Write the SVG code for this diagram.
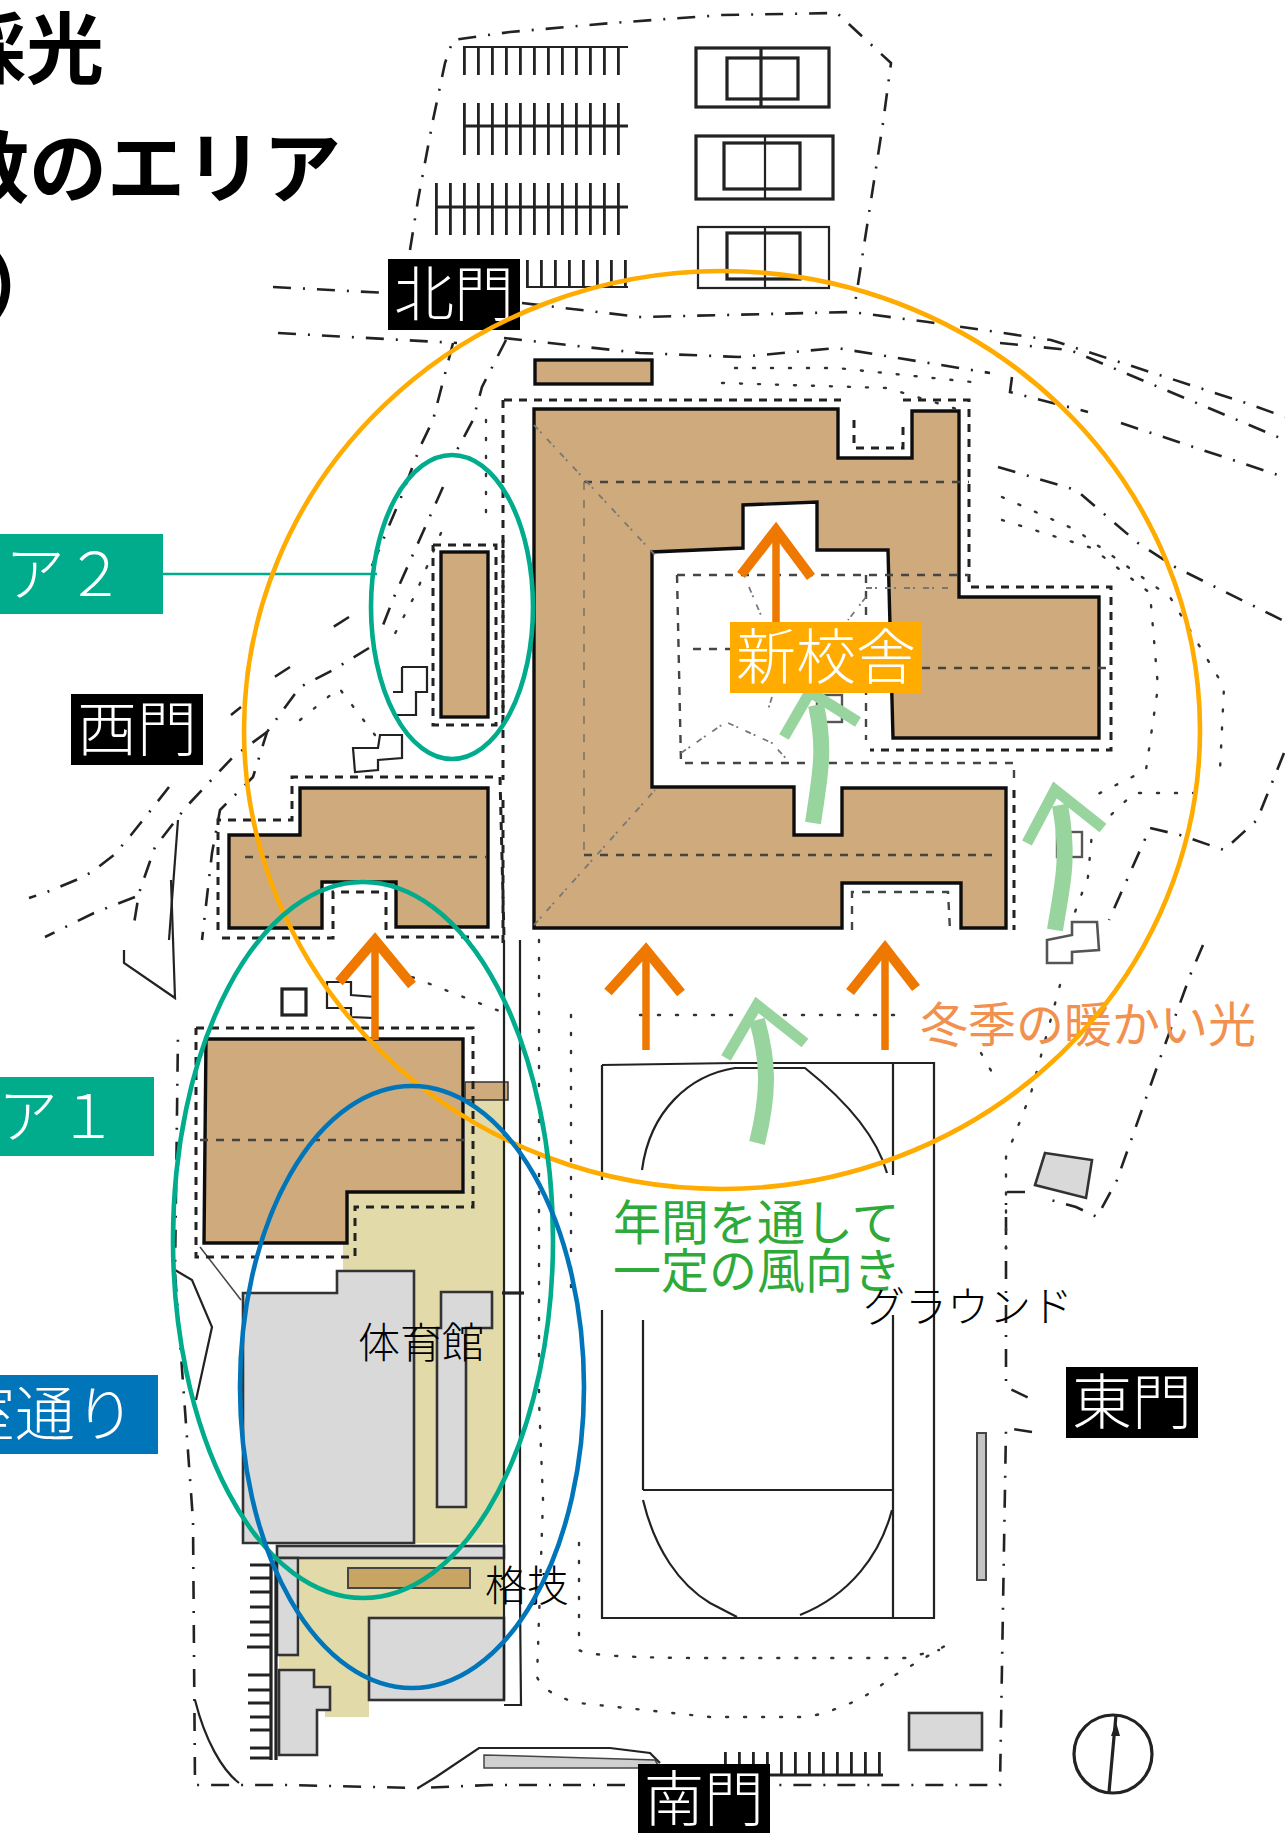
<svg xmlns="http://www.w3.org/2000/svg" width="1285" height="1833" viewBox="0 0 1285 1833">
<defs>
<filter id="soft" x="0" y="0" width="1285" height="1833" filterUnits="userSpaceOnUse"><feGaussianBlur stdDeviation="0.7"/></filter>
</defs>
<style>
text{font-family:"Noto Sans CJK JP","Noto Sans",sans-serif}
.title{font-size:78px;font-weight:700;fill:#000}
.lab{font-size:60px;font-weight:300;fill:#fff}
.blk{font-size:42px;font-weight:300;fill:#000}
.tan{fill:#cfaa7c;stroke:#111;stroke-width:3.4;stroke-linejoin:miter}
.gry{fill:#d9d9d9;stroke:#333;stroke-width:2.6}
.bei{fill:#e2dba9;stroke:none}
.s{fill:none;stroke:#222;stroke-width:2.2}
.s1{fill:none;stroke:#444;stroke-width:1.5}
.b{fill:none;stroke:#222;stroke-width:3.2}
.dd{fill:none;stroke:#222;stroke-width:2.6;stroke-dasharray:18 12 2 12}
.d{fill:none;stroke:#222;stroke-width:3;stroke-dasharray:8 7}
.dr{fill:none;stroke:#444;stroke-width:2.4;stroke-dasharray:8 8}
.dl{fill:none;stroke:#777;stroke-width:1.8;stroke-dasharray:6 3 2 8}
.dlv{fill:none;stroke:#8a7a66;stroke-width:1.8;stroke-dasharray:8 10}
.dot{fill:none;stroke:#333;stroke-width:2.4;stroke-dasharray:2 16;stroke-linecap:round}
.tick{fill:none;stroke:#222;stroke-dasharray:2.8 11.2}
.or{fill:none;stroke:#ee7800;stroke-width:7.5}
.orh{fill:none;stroke:#ee7800;stroke-width:10;stroke-linejoin:miter}
.gr{fill:none;stroke:#98d49e;stroke-width:16}
.gr2{fill:none;stroke:#98d49e;stroke-width:11;stroke-linejoin:miter}
.el{fill:none;stroke-width:4.6}
</style>

<g id="sketch" filter="url(#soft)">
<path class="bei" d="M465 1100H503L505 1543H414V1271H343V1240H347V1192H465Z"/>
<path class="bei" d="M300 1558H503V1617H369V1717H325V1710H330V1687H314V1670H279V1656H300Z"/>
<rect class="tan" x="535" y="360" width="117" height="24"/>
<polygon class="tan" points="534,409 838,409 838,458 912,458 912,411 959,411 959,597 1099,597 1099,738 893,738 888,550 817,550 817,502 743,505 743,548 652,552 652,787 794,787 794,835 842,835 842,788 1006,788 1006,928 961,928 961,883 842,883 842,928 534,928"/>
<rect class="tan" x="441" y="552" width="47" height="165"/>
<polygon class="tan" points="229,835 300,835 300,788 488,788 488,927 396,927 396,882 322,882 322,928 229,928"/>
<polygon class="tan" points="206,1039 463,1039 463,1192 347,1192 347,1243 204,1243"/>
<rect x="465" y="1082" width="43" height="18" fill="#cfaa7c" stroke="#333" stroke-width="1.5"/>
<polygon class="gry" points="243,1293 337,1293 337,1271 414,1271 414,1543 243,1543"/>
<polygon class="gry" points="441,1292 492,1292 492,1328 466,1328 466,1507 437,1507 437,1328 441,1328"/>
<rect class="gry" x="277" y="1546" width="227" height="12"/>
<rect class="gry" x="277" y="1558" width="21" height="97"/>
<rect class="gry" x="369" y="1618" width="135" height="82"/>
<polygon class="gry" points="279,1670 314,1670 314,1687 330,1687 330,1710 317,1710 317,1755 279,1755"/>
<rect x="348" y="1568" width="122" height="20" fill="#c8a564" stroke="#444" stroke-width="2"/>
<polygon class="gry" points="1045,1153 1092,1160 1086,1198 1035,1185"/>
<rect class="gry" x="909" y="1713" width="73" height="37"/>
<rect x="977" y="1433" width="9" height="147" fill="#c4c4c4" stroke="#444" stroke-width="2"/>
<path d="M484 1755L655 1760L660 1768L484 1768Z" fill="#d0d0d0" stroke="#444" stroke-width="1.5"/>

<!-- parking -->
<path class="s" d="M463 47H628"/>
<line class="tick" x1="463" y1="61" x2="628" y2="61" stroke-width="28"/>
<line class="tick" x1="463" y1="129" x2="628" y2="129" stroke-width="52"/>
<path class="b" d="M463 126H628"/>
<line class="tick" x1="435" y1="209" x2="628" y2="209" stroke-width="52"/>
<path class="b" d="M435 207H628"/>
<line class="tick" x1="526" y1="274" x2="628" y2="274" stroke-width="28"/>
<path class="s" d="M526 287H628"/>
<g>
<rect class="b" x="696" y="48" width="133" height="59"/><rect class="b" x="727" y="58" width="71" height="41"/><path class="b" d="M761 48V107"/>
<rect class="b" x="696" y="136" width="137" height="63"/><rect class="b" x="724" y="143" width="76" height="46" stroke-width="4"/><path class="s" d="M765 136V199"/>
<rect class="s" x="698" y="227" width="131" height="61"/><rect class="b" x="727" y="233" width="73" height="46"/><path class="s" d="M765 227V288"/>
</g>
<path class="dd" d="M410 250L418 200L433 120L445 63L453 40L510 32L612 23L722 15L837 13L891 63L883 123L854 310"/>

<!-- roads -->
<path class="dd" d="M273 287L388 293"/>
<path class="dd" d="M278 333L457 343"/>
<path class="dd" d="M504 338L640 353L739 357L837 348L990 373"/>
<path class="dd" d="M1012 377L1010 392L1088 412"/>
<path class="dd" d="M522 303L640 317L852 312L928 322L1051 340L1243 402L1285 417"/>
<path class="dd" d="M1000 343L1070 350L1285 440"/>
<path class="dd" d="M998 467L1076 490L1138 543L1175 567L1282 620"/>
<path class="dd" d="M1121 423L1278 475"/>
<path class="dd" d="M1284 753L1257 820L1224 850L1180 835L1150 828L1109 920"/>
<path class="dd" d="M1203 945L1191 973L1162 1053L1117 1180L1097 1217L1076 1207L1051 1200"/>
<path class="dd" d="M1025 1192H1006V1387L1029 1398"/>
<path class="dd" d="M1032 1432L1006 1428L1000 1785L775 1785"/>
<path class="dd" d="M625 1785H489L418 1788L286 1785L195 1785L193 1520L175 1273L178 1033"/>
<path class="s" d="M195 1700C205 1740 222 1770 239 1783"/>
<path class="s" d="M418 1788L436 1777L479 1748H610L650 1753L660 1763"/>
<path class="s" d="M124 950V963L175 998L171 880"/>
<path class="s" d="M175 1270L192 1280L212 1327L196 1400"/>
<path class="s1" d="M200 1247L241 1300"/>
<path class="dd" d="M506 340L482 387L473 420L457 450"/>
<path class="dd" d="M453 343L433 420L420 447L400 500L369 573"/>
<path class="dd" d="M443 487L394 597L380 633"/>
<path class="dd" d="M349 617L324 633"/>
<path class="dd" d="M369 648L333 670L300 687L267 732L253 777L220 810L212 853L202 940"/>
<path class="dd" d="M290 667L273 678M241 707L231 715"/>
<path class="dd" d="M267 732L233 757L186 807L155 847L139 893L133 930"/>
<path class="dd" d="M169 787L151 810L131 835L114 855L92 872L76 880L47 892L29 898"/>
<path class="dd" d="M135 897L94 913L45 937"/>
<path class="s" d="M178 820L169 940"/>
<path class="dot" d="M486 420V520M441 533L416 593L388 647"/>
<path class="dot" d="M300 720L339 688L375 735"/>

<!-- building surrounds -->
<path class="d" d="M504 400H841M903 400H969V587H1111V750H870"/>
<path class="d" d="M503 400V780M503 800V950"/>
<path class="d" d="M1014 790V930"/>
<path class="d" d="M854 420V448H903V420"/>
<path class="dr" d="M852 930V892H948L950 930"/>
<path class="dr" d="M584 482H969M584 855H994"/>
<path class="dlv" d="M584 482V855"/>
<path class="dr" d="M677 575H969M677 575L681 763H1014V778"/>
<path class="dr" d="M866 575V740"/>
<path class="dl" d="M866 588H948"/>
<path class="dr" d="M693 649H730M922 668H1109"/>
<path class="dl" d="M534 425L655 555M534 925L655 790"/>
<path class="dl" d="M749 587L763 620M866 597L848 620M772 697L767 713M681 753L726 722L772 743L790 763"/>
<path class="d" d="M433 545H496V725H433V545M503 540V725"/>
<path class="d" d="M218 930V820H292V777H500L504 937H386V892H333V938H218"/>
<path class="dr" d="M245 857H486"/>
<path class="d" d="M196 1028H473V1207H355V1257H196V1028"/>
<path class="dr" d="M200 1140H469"/>

<!-- dotted landscape -->
<path class="dot" d="M735 368H837L981 383"/>
<path class="dot" d="M722 383L887 388L960 410"/>
<path class="dot" d="M1002 497L1076 530L1170 597L1224 687L1220 770"/>
<path class="dot" d="M1002 520L1092 548L1150 593L1158 687L1146 770L1092 797"/>
<path class="dot" d="M1195 793H1134L1092 833L1088 877L1072 920"/>
<path class="dot" d="M981 1053L998 1083M1060 985L1031 1093L1006 1157V1250"/>
<path class="dot" d="M539 940V1400L543 1500L537 1677Q545 1695 579 1703L710 1717H808Q860 1705 890 1678L950 1643"/>
<path class="dot" d="M571 1015V1290M640 1015H907"/>
<path class="dot" d="M579 1543V1650Q590 1658 710 1658H905L939 1650"/>
<path class="dot" d="M412 977L502 1012"/>

<!-- small outbuildings -->
<path class="s" d="M402 667H427V692H416V715H395M402 667V692H393"/>
<polygon class="s" points="380,735 402,735 402,758 378,760 378,770 355,772 353,748 378,748"/>
<rect class="b" x="282" y="989" width="24" height="26"/>
<polygon class="s" points="327,982 351,982 351,995 375,997 375,1018 351,1017 351,1008 327,1008"/>
<rect x="817" y="695" width="25" height="27" fill="none" stroke="#555" stroke-width="2.4"/>
<rect x="1057" y="832" width="25" height="25" fill="none" stroke="#555" stroke-width="2.4"/>
<polygon points="1072,922 1097,922 1099,950 1072,952 1072,963 1047,963 1047,940 1072,935" fill="none" stroke="#555" stroke-width="2.6"/>

<!-- west strip -->
<path class="s" d="M504 940V1700M520 940V1600L521 1705H504"/>
<path class="b" d="M502 1293H524"/>
<path class="b" d="M271 1565V1760M276 1558V1760"/>
<path class="b" d="M250 1565H271M250 1578H271M250 1592H271M250 1607H271M250 1622H271M250 1635H271M247 1647H271M248 1675H271M248 1690H271M248 1703H271M250 1717H271M250 1730H271M250 1748H271M250 1758H271" stroke-width="2.2"/>
<line class="tick" x1="724" y1="1763" x2="883" y2="1763" stroke-width="22"/>
<path class="b" d="M724 1775H883"/>

<!-- sports ground -->
<path class="s" d="M602 1065V1180M602 1310V1618H934V1063H735L602 1065"/>
<path class="s" d="M893 1063V1175M893 1315V1618"/>
<path class="s" d="M643 1490H893M643 1320V1490"/>
<path class="s" d="M642 1170C650 1110 690 1075 735 1068H805C835 1092 875 1130 887 1173"/>
<path class="s" d="M643 1500C655 1550 680 1585 710 1603L737 1617M892 1510C880 1555 850 1595 800 1615"/>

<!-- compass -->
<ellipse class="b" cx="1113" cy="1754" rx="39" ry="39"/>
<path class="b" d="M1109 1792L1116 1715"/>
<polygon points="1116,1722 1111,1736 1120,1736" fill="#222"/>
</g>

<g id="connectors">
<path class="or" d="M776 622V535"/><path class="orh" d="M741 575L776 530L811 577"/>
<path class="or" d="M375 1040V945"/><path class="orh" d="M339 982L375 940L412 985"/>
<path class="or" d="M646 1050V955"/><path class="orh" d="M608 992L646 950L681 993"/>
<path class="or" d="M885 1050V953"/><path class="orh" d="M850 992L885 948L916 988"/>
<path class="gr" d="M813 823C820 775 826 750 816 705"/>
<path class="gr2" d="M784 737L810 692L858 722"/>
<path class="gr" d="M1055 930C1062 885 1070 860 1060 805"/>
<path class="gr2" d="M1027 843L1055 790L1103 828"/>
<path class="gr" d="M757 1143C770 1090 768 1060 757 1020"/>
<path class="gr2" d="M726 1058L757 1005L805 1043"/>
<line x1="163" y1="574" x2="377" y2="574" stroke="#00ac8c" stroke-width="2.4"/>
</g>

<g id="title">
<text class="title" x="-52" y="78">採光</text>
<text class="title" x="-49" y="197">数のエリア</text>
<text class="title" x="-16" y="315">）</text>
</g>

<g id="gate-north"><rect x="388" y="259" width="132" height="71" fill="#000"/><text class="lab" x="394" y="316">北門</text></g>
<g id="gate-west"><rect x="71" y="694" width="132" height="71" fill="#000"/><text class="lab" x="77" y="751">西門</text></g>
<g id="gate-east"><rect x="1066" y="1367" width="132" height="71" fill="#000"/><text class="lab" x="1072" y="1424">東門</text></g>
<g id="gate-south"><rect x="638" y="1764" width="132" height="69" fill="#000"/><text class="lab" x="644" y="1821">南門</text></g>

<g id="area2"><rect x="0" y="534" width="163" height="80" fill="#00ac8c"/><text class="lab" x="5" y="596">ア２</text></g>
<g id="area1"><rect x="0" y="1077" width="154" height="79" fill="#00ac8c"/><text class="lab" x="-2" y="1138">ア１</text></g>
<g id="corridor"><rect x="0" y="1375" width="158" height="79" fill="#0075ba"/><text class="lab" x="-45" y="1436">室通り</text></g>
<g id="new-school"><rect x="730" y="622" width="192" height="71" fill="#ffab00"/><text class="lab" x="736" y="679">新校舎</text></g>

<g id="wind"><text x="613" y="1240" font-size="48" font-weight="400" fill="#2eaa3a">年間を通して</text><text x="613" y="1288" font-size="48" font-weight="400" fill="#2eaa3a">一定の風向き</text></g>
<g id="winter-light"><text x="920" y="1042" font-size="48" font-weight="400" fill="#f1914f">冬季の暖かい光</text></g>
<g id="ground"><text class="blk" x="863" y="1322">グラウンド</text></g>
<g id="gym"><text class="blk" x="358" y="1358">体育館</text></g>
<g id="budo"><text class="blk" x="485" y="1601">格技</text></g>

<g id="regions">
<ellipse id="region-new" class="el" cx="722" cy="730" rx="478" ry="459" stroke="#ffab00"/>
<ellipse id="region-area2" class="el" cx="452" cy="607" rx="81" ry="152" stroke="#00ac8c"/>
<ellipse id="region-area1" class="el" cx="363" cy="1240" rx="190" ry="358" stroke="#00ac8c"/>
<ellipse id="region-corridor" class="el" cx="412" cy="1387" rx="172" ry="301" stroke="#0075ba"/>
</g>
</svg>
